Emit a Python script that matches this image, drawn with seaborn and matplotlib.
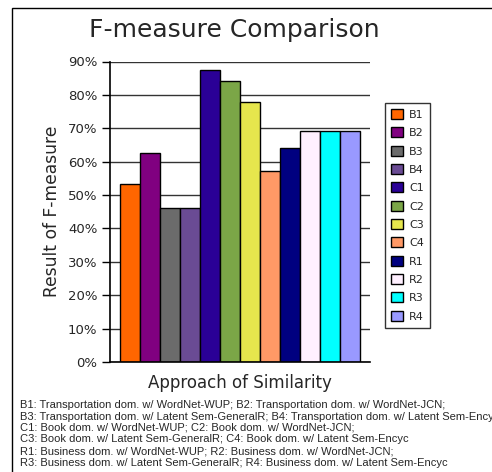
import matplotlib
matplotlib.use('Agg')
import matplotlib.pyplot as plt
import seaborn as sns
import pandas as pd
from matplotlib.patches import Rectangle
from matplotlib.ticker import PercentFormatter

sns.set_theme(style='white')
plt.rcParams['font.family'] = ['DejaVu Sans']

# Data
labels = ['B1', 'B2', 'B3', 'B4', 'C1', 'C2', 'C3', 'C4', 'R1', 'R2', 'R3', 'R4']
fmeasure = [53.3, 62.6, 46.1, 46.1, 87.5, 84.2, 77.8, 57.1, 64.0, 69.3, 69.3, 69.3]
colors = ['#FF6600', '#800080', '#6B6B6B', '#6A4B94', '#2A0096', '#7BA647',
          '#E6E64D', '#FF9966', '#000080', '#FFF0FF', '#00FFFF', '#9999FF']
yticks = [0, 10, 20, 30, 40, 50, 60, 70, 80, 90]
notes = [
    'B1: Transportation dom. w/ WordNet-WUP; B2: Transportation dom. w/ WordNet-JCN;',
    'B3: Transportation dom. w/ Latent Sem-GeneralR; B4: Transportation dom. w/ Latent Sem-Encyc',
    'C1: Book dom. w/ WordNet-WUP; C2: Book dom. w/ WordNet-JCN;',
    'C3: Book dom. w/ Latent Sem-GeneralR; C4: Book dom. w/ Latent Sem-Encyc',
    'R1: Business dom. w/ WordNet-WUP; R2: Business dom. w/ WordNet-JCN;',
    'R3: Business dom. w/ Latent Sem-GeneralR; R4: Business dom. w/ Latent Sem-Encyc',
]

df = pd.DataFrame({'label': labels, 'value': fmeasure})

W, H = 492, 472
fig = plt.figure(figsize=(W / 100, H / 100), dpi=100)
ax = fig.add_axes([110 / W, 1 - 362 / H, 260 / W, 300.5 / H])

sns.barplot(data=df, x='label', y='value', hue='label', palette=colors,
            saturation=1, width=1.0, edgecolor='black', linewidth=1,
            legend=True, ax=ax)

ax.set_xlim(-1.0, 12.0)
ax.set_ylim(0, 90)
ax.set_yticks(yticks)
ax.yaxis.set_major_formatter(PercentFormatter(decimals=0))
ax.set_xticks([])
ax.tick_params(axis='y', left=True, length=6, width=1, color='black',
               labelsize=9.5, pad=3)
ax.grid(axis='y', color='#333333', linewidth=1)
ax.set_axisbelow(True)
for side in ['top', 'right']:
    ax.spines[side].set_visible(False)
for side in ['left', 'bottom']:
    ax.spines[side].set_color('black')
    ax.spines[side].set_linewidth(1.2)

ax.set_xlabel('Approach of Similarity', fontsize=12, labelpad=9)
ax.set_ylabel('Result of F-measure', fontsize=12.3, labelpad=5)
fig.text(234 / W, 1 - 30 / H, 'F-measure Comparison', fontsize=18,
         ha='center', va='center')

leg = ax.legend(loc='upper left', bbox_to_anchor=(385 / W, 1 - 103 / H),
                bbox_transform=fig.transFigure, fontsize=8, frameon=True,
                fancybox=False, handlelength=1.1, handleheight=1.0,
                handletextpad=0.5, labelspacing=0.68, borderpad=0.55,
                borderaxespad=0, title=None)
leg.get_frame().set_edgecolor('black')
leg.get_frame().set_linewidth(1)
for h in leg.legend_handles:
    h.set_edgecolor('black')
    h.set_linewidth(1)

# footnote; the second line runs past the right edge, as in the source chart
for i, line in enumerate(notes):
    fig.text(20 / W, 1 - (405 + 11.5 * i) / H, line, fontsize=8,
             family=['Liberation Sans', 'DejaVu Sans'], ha='left', va='center')

fig.patches.append(Rectangle((12 / W, -0.1), 1.0, 1 - 8 / H + 0.1,
                             transform=fig.transFigure, fill=False,
                             edgecolor='black', linewidth=1))

fig.savefig('out.png', dpi=100)
